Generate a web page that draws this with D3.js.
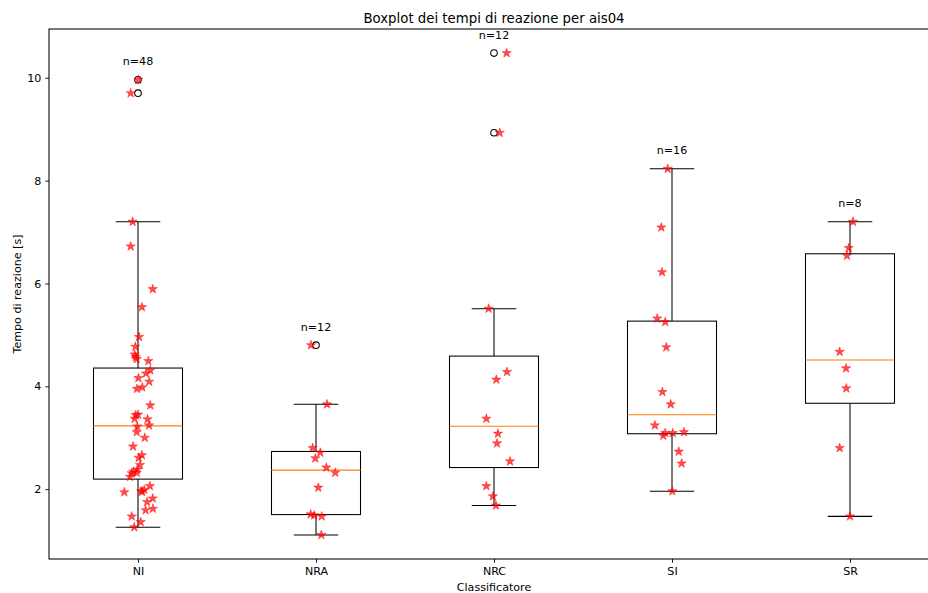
<!DOCTYPE html>
<html>
<head>
<meta charset="utf-8">
<script src="https://cdn.jsdelivr.net/npm/d3@7"></script>
<style>
  html, body { margin: 0; padding: 0; background: #fff; overflow: hidden; }
  svg { display: block; font-family: "DejaVu Sans", sans-serif; }
</style>
</head>
<body>
<svg id="chart" width="928" height="593"></svg>
<script>
// Reaction times (seconds) per classifier, with horizontal jitter in category units
const categories = ["NI", "NRA", "NRC", "SI", "SR"];

const timesNI = [9.96, 9.70, 7.20, 6.72, 5.89, 5.54, 4.96, 4.77, 4.62, 4.57, 4.53, 4.49,
  4.31, 4.25, 4.16, 4.09, 3.98, 3.95, 3.63, 3.45, 3.44, 3.37, 3.36, 3.24,
  3.22, 3.11, 3.00, 2.83, 2.66, 2.61, 2.47, 2.38, 2.34, 2.31, 2.32, 2.24,
  2.06, 1.94, 1.99, 1.95, 1.96, 1.82, 1.75, 1.62, 1.59, 1.47, 1.36, 1.26];
const jitterNI = [0.002, -0.041, -0.030, -0.041, 0.083, 0.022, 0.006, -0.015, -0.019, -0.013, -0.007, 0.058,
  0.069, 0.045, 0.002, 0.063, 0.024, -0.006, 0.069, 0.000, -0.013, -0.019, 0.054, 0.062,
  -0.004, -0.007, 0.038, -0.028, 0.022, 0.004, 0.011, -0.004, -0.026, -0.035, -0.007, -0.045,
  0.067, -0.077, 0.035, 0.024, 0.017, 0.083, 0.051, 0.084, 0.043, -0.035, 0.015, -0.021];

const timesNRA = [4.80, 3.65, 2.80, 2.71, 2.60, 2.42, 2.32, 2.03, 1.51, 1.49, 1.47, 1.11];
const jitterNRA = [-0.028, 0.062, -0.019, 0.024, -0.004, 0.058, 0.108, 0.013, -0.030, -0.010, 0.032, 0.030];

const timesNRC = [10.48, 8.93, 5.51, 4.28, 4.13, 3.37, 3.08, 2.89, 2.54, 2.06, 1.86, 1.68];
const jitterNRC = [0.071, 0.032, -0.030, 0.073, 0.013, -0.043, 0.022, 0.017, 0.090, -0.043, -0.006, 0.011];

const timesSI = [8.23, 7.09, 6.22, 5.32, 5.25, 4.76, 3.89, 3.65, 3.24, 3.11, 3.09, 3.09, 3.04, 2.73, 2.50, 1.96];
const jitterSI = [-0.024, -0.060, -0.056, -0.083, -0.038, -0.032, -0.054, -0.007, -0.096, 0.067, 0.004, -0.038, -0.049, 0.038, 0.054, 0.002];

const timesSR = [7.20, 6.69, 6.54, 4.67, 4.35, 3.96, 2.80, 1.47];
const jitterSR = [0.017, -0.007, -0.017, -0.058, -0.022, -0.021, -0.058, 0.000];

const yTicks = [2, 4, 6, 8, 10];

const groups = [
  { name: categories[0], times: timesNI, jitter: jitterNI },
  { name: categories[1], times: timesNRA, jitter: jitterNRA },
  { name: categories[2], times: timesNRC, jitter: jitterNRC },
  { name: categories[3], times: timesSI, jitter: jitterSI },
  { name: categories[4], times: timesSR, jitter: jitterSR }
];

// Box statistics (linear-interpolated quartiles, whiskers at 1.5 IQR)
groups.forEach((g, i) => {
  const s = g.times.slice().sort(d3.ascending);
  const q1 = d3.quantileSorted(s, 0.25);
  const med = d3.quantileSorted(s, 0.5);
  const q3 = d3.quantileSorted(s, 0.75);
  const iqr = q3 - q1;
  const lo = d3.min(s.filter(v => v >= q1 - 1.5 * iqr));
  const hi = d3.max(s.filter(v => v <= q3 + 1.5 * iqr));
  Object.assign(g, {
    pos: i + 1, q1, med, q3, lo, hi,
    fliers: s.filter(v => v < lo || v > hi),
    max: d3.max(s)
  });
});

const svg = d3.select("#chart");
const margin = { left: 49, right: 939, top: 29, bottom: 559 };

// y limits: data span with 5% padding
const allMin = d3.min(groups, g => d3.min(g.times));
const allMax = d3.max(groups, g => d3.max(g.times));
const pad = (allMax - allMin) * 0.05;

const x = d3.scaleLinear().domain([0.5, categories.length + 0.5]).range([margin.left, margin.right]);
const y = d3.scaleLinear().domain([allMin - pad, allMax + pad]).range([margin.bottom, margin.top]);

const boxW = 0.5, capW = 0.25;
const lw = 1.05;
const fs = "11.1px";

const plot = svg.append("g");

// boxes, whiskers, caps, medians
groups.forEach(g => {
  const gg = plot.append("g");
  gg.append("rect")
    .attr("x", x(g.pos - boxW / 2)).attr("y", y(g.q3))
    .attr("width", x(g.pos + boxW / 2) - x(g.pos - boxW / 2))
    .attr("height", y(g.q1) - y(g.q3))
    .attr("fill", "none").attr("stroke", "#000").attr("stroke-width", lw);
  [[g.q3, g.hi], [g.q1, g.lo]].forEach(([a, b]) => {
    gg.append("line")
      .attr("x1", x(g.pos)).attr("x2", x(g.pos))
      .attr("y1", y(a)).attr("y2", y(b))
      .attr("stroke", "#000").attr("stroke-width", lw);
    gg.append("line")
      .attr("x1", x(g.pos - capW / 2)).attr("x2", x(g.pos + capW / 2))
      .attr("y1", y(b)).attr("y2", y(b))
      .attr("stroke", "#000").attr("stroke-width", lw);
  });
  gg.append("line")
    .attr("x1", x(g.pos - boxW / 2)).attr("x2", x(g.pos + boxW / 2))
    .attr("y1", y(g.med)).attr("y2", y(g.med))
    .attr("stroke", "#ff7f0e").attr("stroke-width", lw);
  gg.selectAll("circle.flier").data(g.fliers).join("circle")
    .attr("class", "flier")
    .attr("cx", x(g.pos)).attr("cy", d => y(d)).attr("r", 3.3)
    .attr("fill", "none").attr("stroke", "#000").attr("stroke-width", lw);
});

// jittered observations
const star = d3.symbol().type(d3.symbolStar).size(27);
groups.forEach(g => {
  plot.append("g").selectAll("path")
    .data(g.times.map((t, i) => ({ t, j: g.jitter[i] })))
    .join("path")
    .attr("d", star)
    .attr("transform", d => `translate(${x(g.pos + d.j)},${y(d.t)})`)
    .attr("fill", "#ff0000").attr("fill-opacity", 0.7)
    .attr("stroke", "#ff0000").attr("stroke-opacity", 0.7).attr("stroke-width", 0.6);
});

// sample-size labels
groups.forEach(g => {
  svg.append("text")
    .attr("x", x(g.pos)).attr("y", y(g.max + 0.3) + 1)
    .attr("text-anchor", "middle")
    .attr("font-size", fs).attr("fill", "#000")
    .text(`n=${g.times.length}`);
});

// axes
const xAxis = d3.axisBottom(x).tickValues(groups.map(g => g.pos))
  .tickFormat((d, i) => categories[i]).tickSize(3.7).tickSizeOuter(0).tickPadding(4);
const yAxis = d3.axisLeft(y).tickValues(yTicks).tickFormat(d3.format("d"))
  .tickSize(3.7).tickSizeOuter(0).tickPadding(4);

const gx = svg.append("g").attr("transform", `translate(0,${margin.bottom})`).call(xAxis);
const gy = svg.append("g").attr("transform", `translate(${margin.left},0)`).call(yAxis);
[gx, gy].forEach(a => {
  a.select(".domain").remove();
  a.selectAll("text").attr("font-size", fs).attr("font-family", "DejaVu Sans, sans-serif").attr("fill", "#000");
  a.selectAll("line").attr("stroke", "#000").attr("stroke-width", 0.9);
});

// frame
svg.append("rect")
  .attr("x", margin.left).attr("y", margin.top)
  .attr("width", margin.right - margin.left).attr("height", margin.bottom - margin.top)
  .attr("fill", "none").attr("stroke", "#000").attr("stroke-width", lw);

// titles
const cx = (margin.left + margin.right) / 2;
svg.append("text").attr("x", cx).attr("y", 23)
  .attr("text-anchor", "middle").attr("font-size", "13.3px").attr("fill", "#000")
  .text("Boxplot dei tempi di reazione per ais04");
svg.append("text").attr("x", cx).attr("y", 591)
  .attr("text-anchor", "middle").attr("font-size", fs).attr("fill", "#000")
  .text("Classificatore");
svg.append("text")
  .attr("transform", `translate(21,${(margin.top + margin.bottom) / 2}) rotate(-90)`)
  .attr("text-anchor", "middle").attr("font-size", fs).attr("fill", "#000")
  .text("Tempo di reazione [s]");
</script>
</body>
</html>
